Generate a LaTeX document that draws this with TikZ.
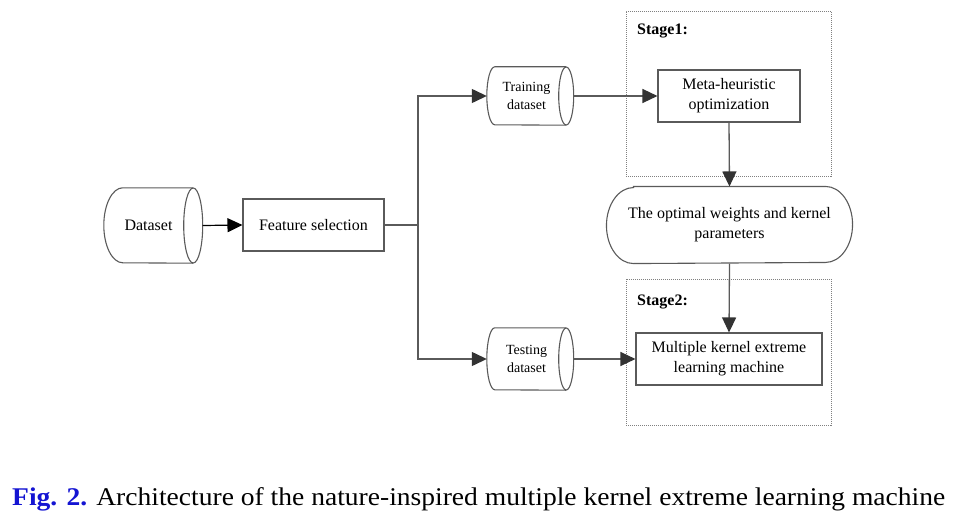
\documentclass[tikz,border=0pt]{standalone}
\usepackage{fontspec}
\setmainfont{Liberation Serif}
\usetikzlibrary{arrows.meta}
\definecolor{lincol}{HTML}{5A5A5A}
\definecolor{tipcol}{HTML}{333333}
\definecolor{figblue}{RGB}{20,20,210}
\newcommand\drumdraw[4]{% name, bulge, rx, half height
  \draw[boxline] (#1.north east) -- ([xshift=#2]#1.north west)
    arc[start angle=90, end angle=270, x radius=#2, y radius=#4]
    -- (#1.south east);
  \draw[boxline] (#1.east) ellipse[x radius=#3, y radius=#4];
}
\begin{document}
\begin{tikzpicture}[x=1pt,y=1pt,
  boxline/.style={draw=lincol, line width=1.1pt},
  procbox/.style={boxline, rectangle, inner sep=0pt, align=center,
    font=\fontsize{16}{20}\selectfont},
  drumnode/.style={inner sep=0pt, align=center, font=\fontsize{14}{17.5}\selectfont},
  stagebox/.style={draw=gray, line width=0.8pt, dash pattern=on 1pt off 1pt},
  stagelbl/.style={anchor=base west, inner sep=0pt, font=\fontsize{16}{19}\selectfont\bfseries},
  conn/.style={draw=lincol, line width=1.3pt},
  arr/.style={conn, -{Triangle[length=15pt, width=14pt, fill=tipcol, color=tipcol]}},
  blackarr/.style={draw=black, line width=1.2pt, -{Triangle[length=15pt, width=14pt, fill=black]}}
]
\useasboundingbox (0,0) rectangle (965,-516);

% stage frames
\node[stagebox, minimum width=205pt, minimum height=165pt, inner sep=0pt] (st1) at (728.5,-93.5) {};
\node[stagebox, minimum width=205pt, minimum height=146pt, inner sep=0pt] (st2) at (728.5,-352) {};
\node[stagelbl] (st1lbl) at (637,-35) {Stage1:};
\node[stagelbl] (st2lbl) at (637,-305) {Stage2:};

% dataset cylinder
\node[drumnode, font=\fontsize{16}{20}\selectfont, minimum width=89pt, minimum height=75pt] (data) at (148.5,-225.5) {Dataset};
\drumdraw{data}{19}{9.5}{37.5}

% feature selection
\node[procbox, minimum width=141pt, minimum height=52pt] (feat) at (313.5,-225) {Feature selection};

% training / testing cylinders
\node[drumnode, minimum width=79pt, minimum height=58pt] (train) at (526.5,-96) {Training\\dataset};
\drumdraw{train}{8}{7.5}{29}
\node[drumnode, minimum width=79pt, minimum height=62pt] (test) at (526.5,-359) {Testing\\dataset};
\drumdraw{test}{8}{7.5}{31}

% meta-heuristic
\node[procbox, minimum width=142pt, minimum height=52pt] (meta) at (729,-96) {Meta-heuristic\\optimization};

% optimal weights oval
\node[procbox, draw=none, minimum width=245pt, minimum height=76pt] (opt) at (729.5,-225) {The optimal weights and kernel\\parameters};
\draw[boxline] ([xshift=27pt]opt.north west) -- ([xshift=-27pt]opt.north east)
  arc[start angle=90, end angle=-90, x radius=27pt, y radius=38pt]
  -- ([xshift=27pt]opt.south west)
  arc[start angle=270, end angle=90, x radius=27pt, y radius=38pt] -- cycle;

% MKELM
\node[procbox, minimum width=186pt, minimum height=52pt] (mkelm) at (729,-359) {Multiple kernel extreme\\learning machine};

% connectors
\coordinate (split) at (418,-225);
\draw[blackarr] ([xshift=9.5pt]data.east) -- (feat.west);
\draw[conn] (feat.east) -- (split);
\draw[arr] (split) |- (train.west);
\draw[arr] (split) |- (test.west);
\draw[arr] ([xshift=7.5pt]train.east) -- (meta.west);
\draw[arr] ([xshift=7.5pt]test.east) -- (mkelm.west);
\draw[arr] (meta.south) -- (opt.north);
\draw[arr] (opt.south) -- (mkelm.north);

% caption
\node[anchor=base west, inner sep=0pt, xscale=1.08, font=\fontsize{25.5}{28}\selectfont] (cap) at (12,-505)
  {\textcolor{figblue}{\bfseries Fig. 2.} Architecture of the nature-inspired multiple kernel extreme learning machine};
\end{tikzpicture}
\end{document}
